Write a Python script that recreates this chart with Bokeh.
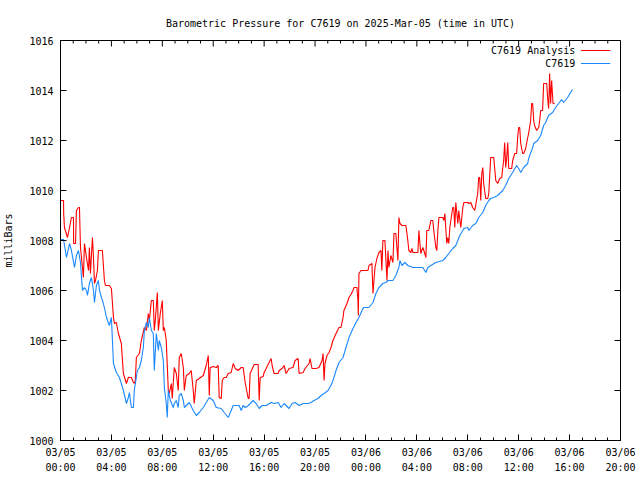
from bokeh.plotting import figure
from bokeh.models import Range1d, FixedTicker, Label
from bokeh.embed import file_html
from bokeh.resources import INLINE

# ---------------- data (hours since 2025-03-05 00:00 UTC, millibars) ----------------
analysis_hours = [
    0.00, 0.24, 0.25, 0.31, 0.55, 0.71, 0.86, 1.02, 1.03, 1.18,
    1.25, 1.41, 1.49, 1.57, 1.80, 1.88, 2.04, 2.20, 2.27, 2.35,
    2.51, 2.59, 2.67, 2.75, 2.90, 2.98, 3.29, 3.45, 3.53, 3.84,
    4.00, 4.16, 4.24, 4.39, 4.55, 4.78, 4.94, 5.18, 5.33, 5.57,
    5.73, 5.80, 5.88, 5.96, 6.20, 6.35, 6.59, 6.75, 6.90, 6.98,
    7.14, 7.29, 7.37, 7.45, 7.61, 7.69, 7.84, 8.00, 8.08, 8.16,
    8.31, 8.47, 8.55, 8.71, 8.78, 8.94, 9.10, 9.25, 9.33, 9.49,
    9.65, 9.73, 9.88, 10.12, 10.27, 10.43, 10.51, 10.67, 10.90, 11.22,
    11.45, 11.61, 11.69, 11.76, 12.00, 12.24, 12.39, 12.47, 12.63, 12.71,
    12.86, 13.02, 13.18, 13.41, 13.57, 13.73, 13.96, 14.20, 14.35, 14.51,
    14.75, 14.82, 14.90, 15.22, 15.53, 15.61, 15.69, 15.92, 16.00, 16.16,
    16.39, 16.55, 16.63, 16.78, 17.10, 17.18, 17.41, 17.57, 17.73, 17.96,
    18.27, 18.43, 18.67, 18.75, 19.06, 19.22, 19.53, 19.61, 19.76, 20.08,
    20.31, 20.55, 20.63, 20.71, 20.78, 20.94, 21.10, 21.25, 21.41, 21.65,
    21.88, 22.04, 22.20, 22.27, 22.51, 22.67, 22.82, 22.98, 23.06, 23.29,
    23.37, 23.40, 23.45, 23.61, 24.16, 24.24, 24.47, 24.55, 24.71, 24.86,
    25.02, 25.18, 25.25, 25.33, 25.49, 25.65, 25.73, 25.80, 25.96, 26.12,
    26.20, 26.35, 26.51, 26.59, 26.67, 26.82, 27.14, 27.29, 27.37, 27.53,
    27.61, 27.69, 28.08, 28.16, 28.24, 28.31, 28.47, 28.55, 28.71, 28.78,
    28.94, 29.10, 29.25, 29.33, 29.49, 29.57, 29.65, 29.73, 30.04, 30.12,
    30.20, 30.35, 30.43, 30.51, 30.59, 30.75, 30.82, 30.90, 30.98, 31.06,
    31.22, 31.29, 31.45, 31.61, 31.69, 32.00, 32.08, 32.24, 32.39, 32.55,
    32.78, 32.86, 32.94, 33.02, 33.10, 33.18, 33.25, 33.41, 33.57, 33.65,
    33.80, 34.04, 34.20, 34.35, 34.51, 34.67, 34.75, 34.82, 34.90, 34.98,
    35.06, 35.14, 35.22, 35.45, 35.53, 35.69, 35.84, 35.92, 36.00, 36.08,
    36.16, 36.31, 36.39, 36.55, 36.71, 36.78, 36.94, 37.02, 37.10, 37.18,
    37.25, 37.41, 37.57, 37.65, 37.73, 37.88, 37.96, 38.20, 38.27, 38.35,
    38.39, 38.43, 38.51, 38.59, 38.67, 38.70, 38.82,
]
analysis_mb = [
    1009.60, 1009.60, 1009.08, 1008.52, 1008.12, 1008.52, 1008.92, 1008.92, 1007.88, 1007.88,
    1009.20, 1009.32, 1009.32, 1007.72, 1006.52, 1007.88, 1007.32, 1006.80, 1007.72, 1006.68,
    1008.12, 1007.32, 1006.28, 1006.40, 1006.80, 1007.60, 1007.60, 1006.40, 1006.20, 1006.20,
    1006.08, 1004.92, 1004.68, 1004.72, 1004.28, 1003.88, 1002.68, 1002.28, 1002.52, 1002.52,
    1002.32, 1002.28, 1002.40, 1003.32, 1003.48, 1004.00, 1004.52, 1004.40, 1005.08, 1004.80,
    1005.60, 1005.60, 1004.40, 1004.80, 1005.92, 1004.40, 1005.08, 1005.60, 1004.40, 1004.52,
    1004.00, 1002.00, 1001.88, 1002.28, 1001.68, 1002.92, 1002.68, 1002.00, 1003.32, 1003.48,
    1002.92, 1002.00, 1002.60, 1002.68, 1002.80, 1002.00, 1001.48, 1002.40, 1002.48, 1002.60,
    1003.00, 1003.40, 1001.80, 1002.92, 1002.96, 1002.92, 1003.00, 1001.72, 1001.68, 1002.40,
    1002.52, 1002.52, 1002.68, 1002.72, 1003.08, 1002.88, 1002.80, 1002.92, 1002.92, 1002.32,
    1001.68, 1001.68, 1002.68, 1003.04, 1003.04, 1001.60, 1002.52, 1002.56, 1002.72, 1002.88,
    1003.12, 1003.28, 1003.00, 1002.68, 1002.68, 1002.80, 1002.88, 1003.00, 1002.68, 1002.88,
    1002.92, 1003.20, 1003.28, 1002.68, 1002.72, 1002.88, 1003.08, 1003.28, 1002.88, 1002.88,
    1002.92, 1003.20, 1003.48, 1002.40, 1003.08, 1003.40, 1003.52, 1003.72, 1004.00, 1004.28,
    1004.52, 1004.52, 1004.92, 1005.20, 1005.48, 1005.72, 1005.84, 1006.00, 1006.12, 1006.12,
    1005.60, 1005.00, 1006.68, 1006.80, 1006.80, 1007.00, 1007.08, 1005.88, 1006.92, 1007.28,
    1007.52, 1007.60, 1006.80, 1008.00, 1008.00, 1006.40, 1007.60, 1006.92, 1007.40, 1007.12,
    1008.28, 1008.28, 1007.20, 1008.92, 1008.68, 1008.60, 1008.60, 1008.00, 1007.60, 1007.52,
    1007.68, 1007.52, 1007.52, 1008.40, 1007.88, 1007.48, 1007.72, 1007.60, 1007.32, 1008.40,
    1008.40, 1008.80, 1008.80, 1008.40, 1007.72, 1007.60, 1008.40, 1008.92, 1008.92, 1008.80,
    1009.08, 1007.88, 1008.12, 1007.88, 1008.52, 1009.08, 1009.32, 1009.32, 1008.52, 1009.52,
    1008.68, 1009.20, 1008.52, 1009.32, 1009.52, 1009.52, 1009.48, 1009.52, 1009.32, 1009.20,
    1009.88, 1010.52, 1010.52, 1009.60, 1010.68, 1010.92, 1010.28, 1009.68, 1009.68, 1009.88,
    1011.32, 1011.32, 1010.40, 1010.28, 1010.48, 1010.52, 1010.92, 1011.20, 1011.92, 1010.92,
    1011.32, 1011.92, 1010.88, 1010.88, 1011.20, 1011.48, 1011.48, 1012.12, 1012.52, 1012.52,
    1011.88, 1011.48, 1011.48, 1011.68, 1012.12, 1012.28, 1012.80, 1013.48, 1013.48, 1012.80,
    1012.60, 1012.40, 1012.52, 1012.80, 1013.20, 1013.20, 1014.28, 1014.28, 1013.72, 1013.28,
    1013.88, 1014.68, 1013.48, 1014.40, 1013.72, 1013.48, 1013.48,
]

station_hours = [
    0.00, 0.24, 0.47, 0.71, 0.86, 1.10, 1.25, 1.41, 1.57, 1.65,
    1.73, 1.88, 2.04, 2.12, 2.27, 2.43, 2.59, 2.67, 2.82, 2.98,
    3.06, 3.22, 3.37, 3.53, 3.61, 3.84, 4.00, 4.08, 4.16, 4.39,
    4.63, 4.78, 4.94, 5.18, 5.33, 5.41, 5.57, 5.73, 5.80, 6.04,
    6.20, 6.35, 6.51, 6.59, 6.75, 6.90, 6.98, 7.14, 7.29, 7.37,
    7.53, 7.69, 7.76, 7.92, 8.08, 8.16, 8.31, 8.39, 8.47, 8.63,
    8.86, 8.94, 9.10, 9.25, 9.33, 9.49, 9.65, 9.73, 9.88, 10.12,
    10.43, 10.67, 10.90, 11.22, 11.45, 11.69, 12.00, 12.24, 12.63, 12.86,
    13.18, 13.41, 13.57, 14.04, 14.20, 14.35, 14.51, 14.75, 14.98, 15.14,
    15.37, 15.61, 15.84, 16.16, 16.55, 16.78, 17.10, 17.33, 17.57, 17.96,
    18.20, 18.43, 18.75, 19.06, 19.45, 19.69, 19.92, 20.24, 20.47, 20.71,
    21.02, 21.25, 21.41, 21.65, 21.88, 22.20, 22.43, 22.67, 22.98, 23.22,
    23.45, 23.76, 23.84, 24.24, 24.55, 24.78, 25.02, 25.33, 25.57, 25.73,
    26.12, 26.35, 26.59, 26.67, 26.82, 27.06, 27.29, 27.69, 27.92, 28.47,
    28.71, 28.86, 29.10, 29.49, 30.04, 30.27, 30.51, 30.82, 31.06, 31.22,
    31.37, 31.61, 31.69, 32.00, 32.08, 32.39, 32.63, 32.86, 33.18, 33.41,
    33.65, 33.80, 34.04, 34.35, 34.59, 34.75, 34.98, 35.22, 35.53, 35.61,
    35.84, 36.00, 36.16, 36.39, 36.71, 36.78, 37.10, 37.18, 37.49, 37.73,
    37.96, 38.12, 38.35, 38.67, 38.90, 39.14, 39.37, 39.53, 39.84, 40.08,
    40.24,
]
station_mb = [
    1008.04, 1008.04, 1007.32, 1007.88, 1007.60, 1006.92, 1007.40, 1007.60, 1007.12, 1006.52,
    1006.00, 1006.12, 1006.00, 1005.80, 1006.28, 1006.52, 1006.00, 1005.52, 1006.20, 1006.40,
    1006.00, 1005.72, 1005.48, 1005.12, 1004.92, 1004.60, 1004.92, 1004.00, 1003.08, 1002.72,
    1002.52, 1002.28, 1002.00, 1001.48, 1001.72, 1001.92, 1001.32, 1001.32, 1002.00, 1002.80,
    1002.92, 1003.20, 1003.72, 1004.40, 1004.72, 1004.52, 1004.92, 1004.40, 1004.28, 1002.80,
    1004.28, 1003.60, 1004.00, 1003.72, 1003.20, 1002.12, 1001.48, 1000.92, 1002.00, 1001.60,
    1001.32, 1001.48, 1001.60, 1001.32, 1001.80, 1001.88, 1001.60, 1001.32, 1001.40, 1001.52,
    1001.20, 1001.00, 1001.12, 1001.32, 1001.52, 1001.72, 1001.60, 1001.32, 1001.28, 1001.12,
    1000.92, 1001.20, 1001.40, 1001.40, 1001.20, 1001.40, 1001.32, 1001.40, 1001.52, 1001.60,
    1001.48, 1001.28, 1001.40, 1001.40, 1001.52, 1001.48, 1001.52, 1001.32, 1001.48, 1001.28,
    1001.48, 1001.52, 1001.40, 1001.48, 1001.48, 1001.52, 1001.60, 1001.68, 1001.80, 1001.88,
    1002.00, 1002.20, 1002.40, 1002.80, 1003.12, 1003.32, 1003.72, 1004.12, 1004.48, 1004.72,
    1004.92, 1005.28, 1005.32, 1005.32, 1005.52, 1005.88, 1006.12, 1006.28, 1006.32, 1006.40,
    1006.40, 1006.60, 1006.92, 1007.20, 1007.00, 1007.12, 1007.00, 1006.92, 1006.92, 1006.92,
    1006.72, 1006.92, 1007.00, 1007.12, 1007.20, 1007.32, 1007.48, 1007.68, 1007.80, 1008.00,
    1008.20, 1008.40, 1008.48, 1008.52, 1008.40, 1008.60, 1008.68, 1008.92, 1009.12, 1009.40,
    1009.60, 1009.68, 1009.72, 1009.80, 1009.92, 1010.00, 1010.20, 1010.48, 1010.72, 1010.80,
    1011.00, 1010.88, 1010.72, 1010.92, 1011.08, 1011.28, 1011.72, 1011.88, 1012.00, 1012.20,
    1012.60, 1012.72, 1013.00, 1013.12, 1013.32, 1013.48, 1013.64, 1013.52, 1013.72, 1013.92,
    1014.04,
]

x_tick_hours = [0, 4, 8, 12, 16, 20, 24, 28, 32, 36, 40, 44]
x_tick_labels = ["03/05\n00:00", "03/05\n04:00", "03/05\n08:00", "03/05\n12:00",
                 "03/05\n16:00", "03/05\n20:00", "03/06\n00:00", "03/06\n04:00",
                 "03/06\n08:00", "03/06\n12:00", "03/06\n16:00", "03/06\n20:00"]
x_minor_hours = list(range(0, 45))
y_ticks = [1000, 1002, 1004, 1006, 1008, 1010, 1012, 1014, 1016]

series_names = ["C7619 Analysis", "C7619"]
series_colors = ["#ff0000", "#1a88ff"]

title_text = "Barometric Pressure for C7619 on 2025-Mar-05 (time in UTC)"
y_label = "milliBars"

FONT = "DejaVu Sans Mono"
FS = "10px"

X0, X1 = 0, 44
Y0, Y1 = 1000, 1016
FRAME_W, FRAME_H = 561, 400
px_y = (Y1 - Y0) / FRAME_H   # millibars per pixel
px_x = (X1 - X0) / FRAME_W   # hours per pixel

# ---------------- figure ----------------
p = figure(width=640, height=480,
           x_range=Range1d(X0, X1), y_range=Range1d(Y0, Y1),
           output_backend="svg", toolbar_location=None,
           min_border_left=59, min_border_right=20,
           min_border_top=40, min_border_bottom=40)

p.background_fill_color = "white"
p.border_fill_color = "white"
p.outline_line_color = "black"
p.outline_line_width = 1
p.xgrid.visible = False
p.ygrid.visible = False

p.title.text = title_text
p.title.align = "center"
p.title.text_font = FONT
p.title.text_font_size = FS
p.title.text_font_style = "normal"
p.title.text_color = "black"
p.title.standoff = 23


def style_axis(ax):
    ax.axis_line_color = "black"
    ax.major_tick_line_color = "black"
    ax.minor_tick_line_color = "black"
    ax.major_tick_in = 6
    ax.major_tick_out = 0
    ax.minor_tick_in = 3
    ax.minor_tick_out = 0
    ax.major_label_text_font = FONT
    ax.major_label_text_font_size = FS
    ax.major_label_text_color = "black"


xa = p.xaxis[0]
xa.ticker = FixedTicker(ticks=x_tick_hours, minor_ticks=x_minor_hours)
xa.major_label_overrides = {h: lab for h, lab in zip(x_tick_hours, x_tick_labels)}
xa.major_label_text_line_height = 1.45
xa.major_label_standoff = 6
style_axis(xa)

ya = p.yaxis[0]
ya.ticker = FixedTicker(ticks=y_ticks, minor_ticks=[])
ya.major_label_standoff = 7
ya.axis_label = y_label
ya.axis_label_text_font = FONT
ya.axis_label_text_font_size = FS
ya.axis_label_text_font_style = "normal"
ya.axis_label_text_color = "black"
ya.axis_label_standoff = 12
style_axis(ya)

# mirrored ticks on the top and right borders (gnuplot style)
top_major = [h for h in x_tick_hours]
top_minor = [h for h in x_minor_hours if h not in x_tick_hours]
p.segment(x0=top_major, y0=[Y1] * len(top_major), x1=top_major,
          y1=[Y1 - 6 * px_y] * len(top_major), line_color="black", line_width=1)
p.segment(x0=top_minor, y0=[Y1] * len(top_minor), x1=top_minor,
          y1=[Y1 - 3 * px_y] * len(top_minor), line_color="black", line_width=1)
p.segment(x0=[X1] * len(y_ticks), y0=y_ticks, x1=[X1 - 6 * px_x] * len(y_ticks),
          y1=y_ticks, line_color="black", line_width=1)

# ---------------- data lines ----------------
p.line(analysis_hours, analysis_mb, line_color=series_colors[0], line_width=1.1)
p.line(station_hours, station_mb, line_color=series_colors[1], line_width=1.1)

# ---------------- key (gnuplot style: text, then sample) ----------------
key_text_x = 40.45
key_sample_x0 = 40.9
key_sample_x1 = 43.2
key_rows = [1015.6, 1015.08]
for name, color, ky in zip(series_names, series_colors, key_rows):
    p.add_layout(Label(x=key_text_x, y=ky, text=name, text_align="right",
                       text_baseline="middle", text_font=FONT, text_font_size=FS,
                       text_color="black"))
    p.segment(x0=[key_sample_x0], y0=[ky], x1=[key_sample_x1], y1=[ky],
              line_color=color, line_width=1)

open("out.html", "w").write(file_html(p, INLINE))
